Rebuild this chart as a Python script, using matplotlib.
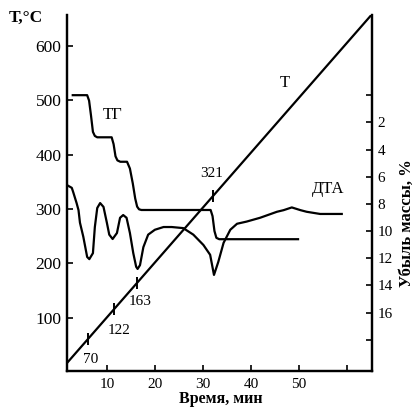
import numpy as np
import matplotlib.pyplot as plt

plt.rcParams['font.family'] = ['Liberation Serif', 'DejaVu Serif']

# temperature line (left axis, °C vs time, min)
time_T = [0, 65.2]
temp_T = [0, 658]

# marked temperatures on the T line
mark_time = [6.1, 11.5, 16.3, 32.1]
mark_label = ['70', '122', '163', '321']
mark_offset = [(3, -21), (5, -21), (3, -19), (-1, 23)]

# TG curve (right axis, weight loss %)
tg_time = [2.9, 5.9, 6.3, 6.7, 7.1, 7.5, 8.0, 11.0, 11.4, 11.8, 12.2, 12.8, 14.2,
           14.8, 15.4, 15.9, 16.3, 16.7, 17.2, 31.6, 32.0, 32.4, 32.8, 33.4, 49.8]
tg_loss = [0, 0, 0.4, 1.5, 2.7, 3.0, 3.1, 3.1, 3.6, 4.5, 4.8, 4.9, 4.9,
           5.4, 6.5, 7.6, 8.2, 8.4, 8.45, 8.45, 8.9, 10.0, 10.5, 10.6, 10.6]

# DTA curve (drawn in left-axis units)
dta_time = [1.7, 2.7, 3.0, 3.7, 4.1, 4.4, 5.1, 5.9, 6.35, 7.1, 7.5, 8.0, 8.6, 9.3,
            10.0, 10.5, 11.2, 12.1, 12.75, 13.4, 14.1, 14.8, 15.5, 16.1, 16.4,
            16.9, 17.6, 18.6, 20.0, 21.8, 23.5, 25.9, 28.0, 30.1, 31.5, 32.3,
            33.2, 34.3, 35.7, 37.1, 39.1, 41.9, 45.4, 46.8, 48.5, 50.3, 51.6,
            54.4, 58.9]
dta_sig = [344, 339, 331, 311, 298, 275, 249, 212, 208, 219, 267, 302, 311, 304,
           275, 253, 245, 256, 284, 289, 284, 256, 219, 194, 190,
           197, 230, 253, 262, 267, 267, 265, 253, 234, 216, 179,
           203, 238, 262, 273, 277, 284, 295, 298, 303, 298, 295,
           291, 291]

fig = plt.figure(figsize=(4.14, 4.08), dpi=100)
ax = fig.add_axes([0.1618, 0.0907, 0.7368, 0.8725])
ax2 = ax.twinx()

lw = 1.6
ax.plot(time_T, temp_T, color='black', lw=lw)
ax.plot(dta_time, dta_sig, color='black', lw=lw)
ax2.plot(tg_time, tg_loss, color='black', lw=lw)

mark_T = np.interp(mark_time, time_T, temp_T)
ax.plot(mark_time, mark_T, ls='none', marker='|', ms=9, mew=1.4, color='black')
for t, y, lab, off in zip(mark_time, mark_T, mark_label, mark_offset):
    ax.annotate(lab, (t, y), xytext=off, textcoords='offset pixels',
                ha='center', va='center', fontsize=11)

ax.text(11.3, 473, 'ТГ', fontsize=12, ha='center', va='center')
ax.text(47.1, 532, 'Т', fontsize=12, ha='center', va='center')
ax.text(56.1, 337, 'ДТА', fontsize=12, ha='center', va='center')

ax.set_xlim(1.7, 65.2)
ax.set_ylim(2.5, 656.5)
ax2.set_ylim(20.3, -5.9)

ax.set_xticks([10, 20, 30, 40, 50, 60])
ax.set_xticklabels(['10', '20', '30', '40', '50', ''])
ax.set_yticks([100, 200, 300, 400, 500, 600])
ax2.set_yticks(range(0, 20, 2))
ax2.set_yticklabels([''] + [str(v) for v in range(2, 18, 2)] + [''])

ax.tick_params(axis='x', direction='in', length=4, width=1.2, pad=5, labelsize=11)
ax.tick_params(axis='y', direction='in', length=4, width=1.2, pad=4, labelsize=12.5)
ax2.tick_params(axis='y', direction='in', length=4, width=1.2, pad=4, labelsize=11)

for a in (ax, ax2):
    a.spines['top'].set_visible(False)
    for s in ('left', 'right', 'bottom'):
        a.spines[s].set_linewidth(1.6)

fig.text(0.063, 0.956, 'T,°C', fontsize=12.5, fontweight='bold', ha='center', va='center')
fig.text(0.534, 0.021, 'Время, мин', fontsize=11.5, fontweight='bold', ha='center', va='center')
fig.text(0.983, 0.453, 'Убыль массы, %', fontsize=12, fontweight='bold',
         rotation=90, ha='center', va='center')

fig.savefig('out.png', dpi=100)
